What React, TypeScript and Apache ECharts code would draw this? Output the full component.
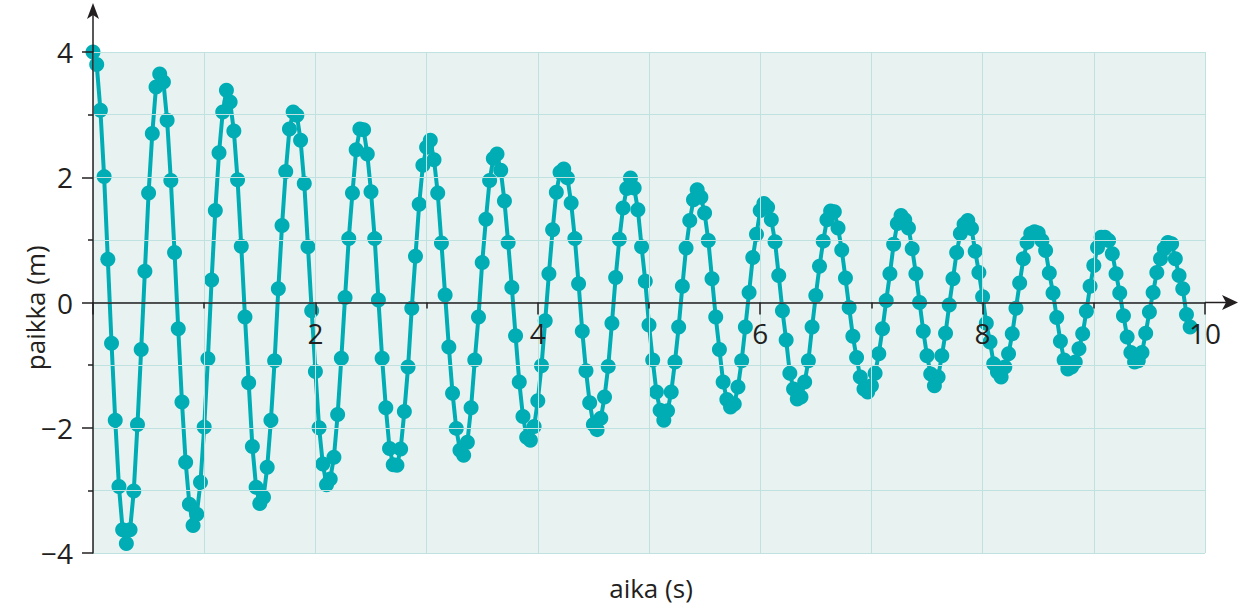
import { useEffect, useRef } from "react";
import * as echarts from "echarts";

// Position samples (m), taken 30 times per second.
const SAMPLES_PER_SECOND = 30;
const sec0 = [4.0, 3.8, 3.07, 2.01, 0.69, -0.65, -1.88, -2.94, -3.63, -3.85, -3.63, -3.01, -1.95, -0.75, 0.5, 1.75, 2.7, 3.44, 3.65, 3.52, 2.91, 1.95, 0.8, -0.42, -1.59, -2.55, -3.22, -3.56, -3.38, -2.87];
const sec1 = [-1.99, -0.9, 0.36, 1.47, 2.39, 3.04, 3.39, 3.2, 2.74, 1.96, 0.9, -0.23, -1.28, -2.3, -2.95, -3.21, -3.11, -2.63, -1.88, -0.93, 0.22, 1.23, 2.09, 2.77, 3.04, 2.99, 2.59, 1.9, 0.89, -0.13];
const sec2 = [-1.1, -2.0, -2.58, -2.91, -2.82, -2.47, -1.79, -0.89, 0.08, 1.02, 1.75, 2.44, 2.77, 2.76, 2.37, 1.77, 1.02, 0.04, -0.89, -1.68, -2.33, -2.59, -2.6, -2.34, -1.74, -1.03, -0.09, 0.74, 1.57, 2.19];
const sec3 = [2.48, 2.59, 2.28, 1.75, 0.95, 0.12, -0.71, -1.45, -2.01, -2.36, -2.44, -2.23, -1.68, -0.92, -0.23, 0.64, 1.33, 1.95, 2.3, 2.37, 2.11, 1.62, 0.96, 0.24, -0.53, -1.27, -1.82, -2.15, -2.2, -1.98];
const sec4 = [-1.57, -1.01, -0.29, 0.46, 1.16, 1.76, 2.08, 2.13, 1.99, 1.59, 1.02, 0.3, -0.46, -1.09, -1.6, -1.95, -2.03, -1.85, -1.51, -1.02, -0.33, 0.4, 1.01, 1.51, 1.82, 1.99, 1.83, 1.48, 0.89, 0.34];
const sec5 = [-0.36, -0.92, -1.43, -1.72, -1.88, -1.73, -1.43, -0.95, -0.39, 0.26, 0.87, 1.31, 1.64, 1.8, 1.68, 1.43, 0.99, 0.38, -0.23, -0.75, -1.27, -1.55, -1.67, -1.62, -1.35, -0.93, -0.39, 0.16, 0.72, 1.09];
const sec6 = [1.47, 1.58, 1.52, 1.32, 0.97, 0.43, -0.13, -0.6, -1.13, -1.38, -1.54, -1.51, -1.27, -0.93, -0.39, 0.11, 0.58, 0.98, 1.32, 1.46, 1.45, 1.19, 0.84, 0.39, -0.08, -0.54, -0.88, -1.19, -1.38, -1.43];
const sec7 = [-1.33, -1.13, -0.82, -0.42, 0.03, 0.46, 0.93, 1.26, 1.39, 1.32, 1.19, 0.86, 0.46, 0.0, -0.46, -0.85, -1.14, -1.33, -1.19, -0.85, -0.49, -0.04, 0.38, 0.8, 1.1, 1.25, 1.31, 1.18, 0.82, 0.48];
const sec8 = [0.09, -0.33, -0.63, -0.98, -1.11, -1.19, -1.03, -0.82, -0.5, -0.09, 0.31, 0.7, 0.96, 1.1, 1.13, 1.11, 0.99, 0.83, 0.47, 0.15, -0.24, -0.62, -0.92, -1.06, -1.03, -0.95, -0.74, -0.5, -0.14, 0.26];
const sec9 = [0.59, 0.88, 1.04, 1.04, 0.99, 0.78, 0.46, 0.15, -0.21, -0.55, -0.8, -0.95, -0.93, -0.8, -0.49, -0.15, 0.16, 0.48, 0.7, 0.86, 0.96, 0.94, 0.7, 0.43, 0.22, -0.19, -0.39];

const X_MIN = 0;
const X_MAX = 10;
const Y_MIN = -4;
const Y_MAX = 4;
const MAJOR_STEP = 2;

const X_TITLE = "aika (s)";
const Y_TITLE = "paikka (m)";

const TEAL = "#00adb4";
const AXIS = "#231f20";
const GRID_LINE = "#bfe2e1";
const PLOT_BG = "#e8f3f1";
const FONT = "'Open Sans', 'Noto Sans', sans-serif";

export default function App() {
  const ref = useRef<HTMLDivElement>(null);

  useEffect(() => {
    document.body.style.margin = "0";
    const chart = echarts.init(ref.current!, null, { renderer: "svg" });
    const values = [...sec0, ...sec1, ...sec2, ...sec3, ...sec4, ...sec5, ...sec6, ...sec7, ...sec8, ...sec9];
    const data = values.map((v, i) => [i / SAMPLES_PER_SECOND, v]);

    const fmt = (v: number) => (v < 0 ? "\u2212" + Math.abs(v) : String(v));

    chart.setOption({
      animation: false,
      grid: {
        left: 93,
        right: 37,
        top: 52,
        bottom: 53,
        show: true,
        backgroundColor: PLOT_BG,
        borderWidth: 0,
      },
      xAxis: {
        type: "value",
        min: X_MIN,
        max: X_MAX,
        interval: MAJOR_STEP,
        z: 10,
        axisLine: { onZero: true, lineStyle: { color: AXIS, width: 1.5 } },
        axisTick: { show: true, length: 12, lineStyle: { color: AXIS, width: 1.5 } },
        minorTick: { show: true, splitNumber: 2, length: 6, lineStyle: { color: AXIS, width: 1.5 } },
        splitLine: { show: true, lineStyle: { color: GRID_LINE, width: 1 } },
        minorSplitLine: { show: true, lineStyle: { color: GRID_LINE, width: 1 } },
        axisLabel: {
          margin: 14,
          fontSize: 28,
          fontFamily: FONT,
          color: AXIS,
          formatter: (v: number) => (v === 0 ? "" : fmt(v)),
        },
      },
      yAxis: {
        type: "value",
        min: Y_MIN,
        max: Y_MAX,
        interval: MAJOR_STEP,
        z: 10,
        axisLine: { onZero: true, lineStyle: { color: AXIS, width: 1.5 } },
        axisTick: { show: true, length: 11, lineStyle: { color: AXIS, width: 1.5 } },
        minorTick: { show: true, splitNumber: 2, length: 5, lineStyle: { color: AXIS, width: 1.5 } },
        splitLine: { show: true, lineStyle: { color: GRID_LINE, width: 1 } },
        minorSplitLine: { show: true, lineStyle: { color: GRID_LINE, width: 1 } },
        axisLabel: {
          margin: 20,
          fontSize: 28,
          fontFamily: FONT,
          color: AXIS,
          formatter: fmt,
        },
      },
      series: [
        {
          type: "line",
          data,
          symbol: "circle",
          symbolSize: 15,
          showAllSymbol: true,
          clip: false,
          z: 2,
          lineStyle: { color: TEAL, width: 4 },
          itemStyle: { color: TEAL },
        },
      ],
    });

    const [ox, oy] = chart.convertToPixel({ gridIndex: 0 }, [X_MIN, 0]);
    const [rx, ty] = chart.convertToPixel({ gridIndex: 0 }, [X_MAX, Y_MAX]);
    const [, by] = chart.convertToPixel({ gridIndex: 0 }, [X_MIN, Y_MIN]);
    const xTip = rx + 33;
    const yTip = 3;

    chart.setOption({
      // x tick labels sit just under the zero line, as in the reference
      xAxis: { axisLabel: { margin: 16 - (by - oy) } },
      graphic: [
        { type: "line", z: 100, shape: { x1: rx, y1: oy, x2: xTip - 6, y2: oy }, style: { stroke: AXIS, lineWidth: 1.5 } },
        { type: "polygon", z: 100, shape: { points: [[xTip, oy], [xTip - 16, oy - 7.5], [xTip - 12, oy], [xTip - 16, oy + 7.5]] }, style: { fill: AXIS } },
        { type: "line", z: 100, shape: { x1: ox, y1: ty, x2: ox, y2: yTip + 6 }, style: { stroke: AXIS, lineWidth: 1.5 } },
        { type: "polygon", z: 100, shape: { points: [[ox, yTip], [ox - 6, yTip + 16], [ox, yTip + 12], [ox + 6, yTip + 16]] }, style: { fill: AXIS } },
        {
          type: "text",
          z: 100,
          x: 35,
          y: (oy + by) / 2 - 120,
          rotation: Math.PI / 2,
          style: { text: Y_TITLE, fontSize: 26, fontFamily: FONT, fill: AXIS, align: "center", verticalAlign: "middle" },
        },
        {
          type: "text",
          z: 100,
          x: (ox + rx) / 2 + 2,
          y: 588,
          style: { text: X_TITLE, fontSize: 26, fontFamily: FONT, fill: AXIS, align: "center", verticalAlign: "middle" },
        },
      ],
    });

    return () => chart.dispose();
  }, []);

  return <div ref={ref} style={{ position: "absolute", left: 0, top: 0, width: 1242, height: 606 }} />;
}
